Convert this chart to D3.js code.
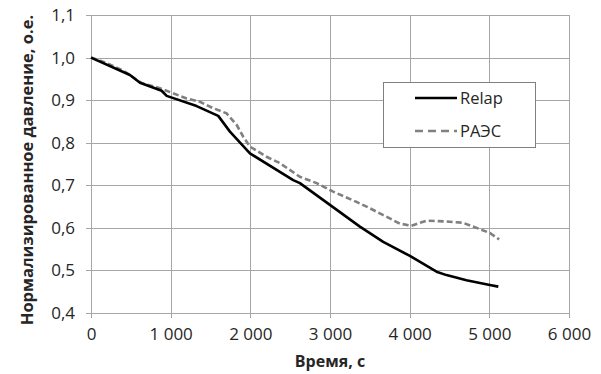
<!DOCTYPE html>
<html><head><meta charset="utf-8">
<script src="https://cdn.jsdelivr.net/npm/d3@7"></script>
<style>
body{margin:0;background:#fff;}
text{font-family:"Open Sans","Liberation Sans",sans-serif;}
</style></head>
<body><svg id="c" width="601" height="374"></svg>
<script>
const xTicks = [0,1000,2000,3000,4000,5000,6000];
const yTicks = [0.4,0.5,0.6,0.7,0.8,0.9,1.0,1.1];
const relapT = [0,489,615,887,950,1326,1597,1744,1995,2538,2622,2999,3375,3668,4003,4337,4462,4713,5006,5113];
const relapV = [1.0,0.959,0.941,0.922,0.910,0.886,0.863,0.826,0.775,0.712,0.705,0.654,0.603,0.567,0.534,0.497,0.489,0.477,0.466,0.462];
const raesT = [0,197,406,636,866,1200,1368,1535,1702,1828,1911,1995,2204,2371,2622,2832,3040,3333,3501,3626,3877,4023,4212,4463,4668,4881,5006,5123];
const raesV = [1.0,0.987,0.969,0.940,0.928,0.904,0.896,0.881,0.869,0.842,0.814,0.791,0.767,0.752,0.720,0.705,0.685,0.661,0.646,0.634,0.610,0.605,0.617,0.615,0.612,0.597,0.588,0.573];
const seriesNames = ["Relap","РАЭС"];
const xTitle = "Время, с";
const yTitle = "Нормализированное давление, о.е.";

const svg = d3.select("#c");
const L=91, R=569, T=15, B=313;
const x = d3.scaleLinear().domain([0,6000]).range([L,R]);
const y = d3.scaleLinear().domain([0.4,1.1]).range([B,T]);
const loc = d3.formatLocale({decimal:",",thousands:"\u00a0",grouping:[3],currency:["",""]});
const gridC = "#a6a6a6";

// grid
svg.append("g").selectAll("line").data(yTicks).join("line")
  .attr("x1",L-5).attr("x2",R).attr("y1",d=>Math.round(y(d))+0.5).attr("y2",d=>Math.round(y(d))+0.5)
  .attr("stroke",gridC).attr("stroke-width",1);
svg.append("g").selectAll("line").data(xTicks).join("line")
  .attr("y1",T).attr("y2",B+5).attr("x1",d=>Math.round(x(d))+0.5).attr("x2",d=>Math.round(x(d))+0.5)
  .attr("stroke",gridC).attr("stroke-width",1);

// axes labels
const yAxis = d3.axisLeft(y).tickValues(yTicks).tickFormat(loc.format(".1f")).tickSize(0).tickPadding(16);
const gy = svg.append("g").attr("transform",`translate(${L},0)`).call(yAxis);
gy.select(".domain").remove();
gy.selectAll("text").attr("font-size",17).attr("fill","#262626").attr("font-family","Open Sans, sans-serif");
const xAxis = d3.axisBottom(x).tickValues(xTicks).tickFormat(loc.format(",d")).tickSize(0).tickPadding(15);
const gx = svg.append("g").attr("transform",`translate(0,${B})`).call(xAxis);
gx.select(".domain").remove();
gx.selectAll("text").attr("font-size",17).attr("fill","#262626").attr("font-family","Open Sans, sans-serif");

// titles
svg.append("text").attr("x",(L+R)/2).attr("y",367).attr("text-anchor","middle")
  .attr("font-size",16).attr("font-weight","bold").attr("fill","#262626").text(xTitle);
svg.append("text").attr("transform",`translate(33,${(T+B)/2+6}) rotate(-90)`).attr("text-anchor","middle")
  .attr("font-size",16.5).attr("font-weight","bold").attr("fill","#262626").text(yTitle);

// lines
const line = d3.line().x(d=>x(d[0])).y(d=>y(d[1]));
svg.append("path").datum(raesT.map((t,i)=>[t,raesV[i]])).attr("d",line)
  .attr("fill","none").attr("stroke","#808080").attr("stroke-width",2.6).attr("stroke-dasharray","6,3");
svg.append("path").datum(relapT.map((t,i)=>[t,relapV[i]])).attr("d",line)
  .attr("fill","none").attr("stroke","#000").attr("stroke-width",2.6).attr("stroke-linejoin","round");

// legend
const lg = svg.append("g");
lg.append("rect").attr("x",383.5).attr("y",82.5).attr("width",152).attr("height",65)
  .attr("fill","#fff").attr("stroke","#7f7f7f").attr("stroke-width",1);
const styles=[{c:"#000",d:null},{c:"#808080",d:"8,5"}];
seriesNames.forEach((n,i)=>{
  const yy = 98 + i*33;
  lg.append("line").attr("x1",415).attr("x2",457).attr("y1",yy).attr("y2",yy)
    .attr("stroke",styles[i].c).attr("stroke-width",2.6).attr("stroke-dasharray",styles[i].d);
  lg.append("text").attr("x",460).attr("y",yy+6).attr("font-size",16.5).attr("fill","#262626").text(n);
});
</script></body></html>
